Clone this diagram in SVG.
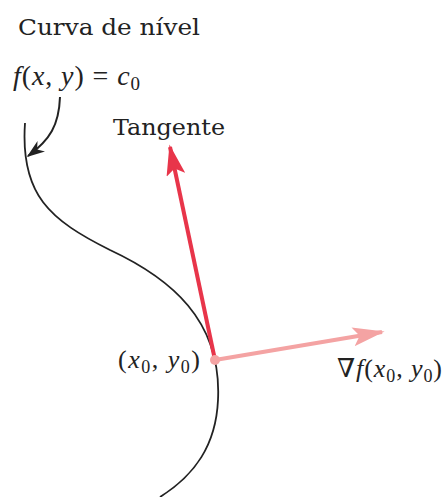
<svg xmlns="http://www.w3.org/2000/svg" width="444" height="497" viewBox="0 0 444 497">
<defs>
<style>
.lbl{font-family:"DejaVu Serif","Liberation Serif",serif;fill:#222;}
.math{font-family:"Liberation Serif","DejaVu Serif",serif;font-style:italic;fill:#222;}
.up{font-style:normal;}
</style>
<marker id="ahBlack" viewBox="0 0 12 10" refX="11" refY="5" markerWidth="18" markerHeight="13" markerUnits="userSpaceOnUse" orient="auto" preserveAspectRatio="none">
<path d="M0,0 L12,5 L0,10 L3.5,5 Z" fill="#222"/>
</marker>
<marker id="ahRed" viewBox="0 0 12 10" refX="11" refY="5" markerWidth="31" markerHeight="19" markerUnits="userSpaceOnUse" orient="auto" preserveAspectRatio="none">
<path d="M0,0 L12,5 L0,10 L2.5,5 Z" fill="#e8354a"/>
</marker>
<marker id="ahPink" viewBox="0 0 12 10" refX="11" refY="5" markerWidth="32" markerHeight="19" markerUnits="userSpaceOnUse" orient="auto" preserveAspectRatio="none">
<path d="M0,0 L12,5 L0,10 L2.5,5 Z" fill="#f4a3a3"/>
</marker>
</defs>
<rect width="444" height="497" fill="#fff"/>
<g id="curve">
<path d="M25,123 C20,195 50,220 110,250 C170,278 222,320 218,400 C216,445 195,475 160,497" fill="none" stroke="#222" stroke-width="1.8"/>
</g>
<g id="connectors">
<path d="M60,97 C59,125 50,140 28,156" fill="none" stroke="#222" stroke-width="2" marker-end="url(#ahBlack)"/>
<line x1="215" y1="360" x2="170" y2="147" stroke="#e8354a" stroke-width="4" marker-end="url(#ahRed)"/>
<line x1="215" y1="360" x2="382" y2="332" stroke="#f4a3a3" stroke-width="4" marker-end="url(#ahPink)"/>
<circle cx="215" cy="360" r="5" fill="#f4a3a3"/>
</g>
<g id="label-curva">
<text class="lbl" x="18" y="35" font-size="23" textLength="182" lengthAdjust="spacingAndGlyphs">Curva de nível</text>
</g>
<g id="label-f">
<text class="math" x="13" y="85" font-size="28" textLength="127" lengthAdjust="spacing">f<tspan class="up">(</tspan>x<tspan class="up">, </tspan>y<tspan class="up">) = </tspan>c<tspan class="up" font-size="19" dy="5">0</tspan></text>
</g>
<g id="label-tangente">
<text class="lbl" x="113" y="135" font-size="23" textLength="112" lengthAdjust="spacingAndGlyphs">Tangente</text>
</g>
<g id="label-point">
<text class="math" x="118" y="368" font-size="26" textLength="82" lengthAdjust="spacing"><tspan class="up">(</tspan>x<tspan class="up" font-size="18" dy="5">0</tspan><tspan class="up" dy="-5">, </tspan>y<tspan class="up" font-size="18" dy="5">0</tspan><tspan class="up" dy="-5">)</tspan></text>
</g>
<g id="label-grad">
<text class="math" x="337" y="377" font-size="26" textLength="105" lengthAdjust="spacing"><tspan class="up">∇</tspan>f<tspan class="up">(</tspan>x<tspan class="up" font-size="18" dy="5">0</tspan><tspan class="up" dy="-5">, </tspan>y<tspan class="up" font-size="18" dy="5">0</tspan><tspan class="up" dy="-5">)</tspan></text>
</g>
</svg>
